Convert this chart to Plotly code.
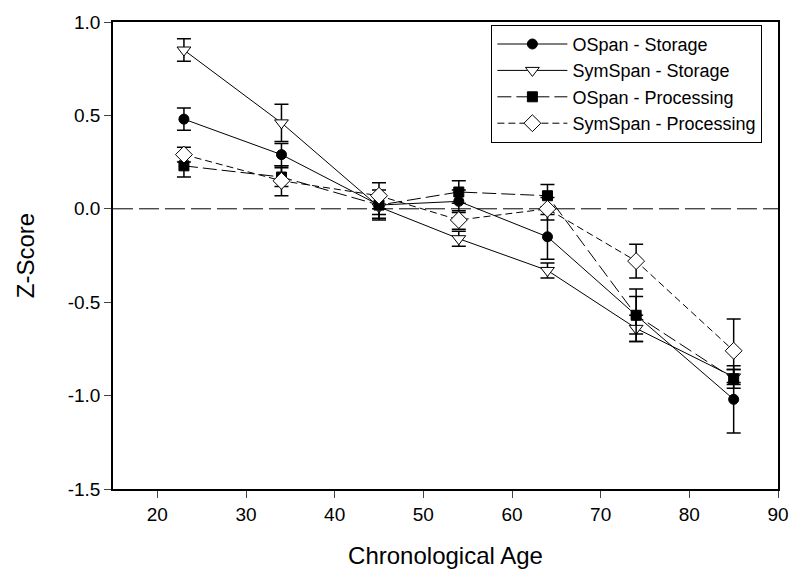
import plotly.graph_objects as go

ages = [23, 34, 45, 54, 64, 74, 85]

series_names = ["OSpan - Storage", "SymSpan - Storage", "OSpan - Processing", "SymSpan - Processing"]

ospan_storage = [0.48, 0.29, 0.02, 0.04, -0.15, -0.57, -1.02]
ospan_storage_err = [0.06, 0.06, 0.05, 0.06, 0.12, 0.10, 0.18]

symspan_storage = [0.85, 0.46, 0.01, -0.16, -0.33, -0.64, -0.90]
symspan_storage_err = [0.06, 0.10, 0.06, 0.04, 0.04, 0.07, 0.04]

ospan_processing = [0.23, 0.17, 0.02, 0.09, 0.07, -0.57, -0.91]
ospan_processing_err = [0.06, 0.05, 0.08, 0.06, 0.06, 0.14, 0.05]

symspan_processing = [0.29, 0.15, 0.07, -0.06, 0.00, -0.28, -0.76]
symspan_processing_err = [0.04, 0.08, 0.07, 0.05, 0.06, 0.09, 0.17]

x_ticks = [20, 30, 40, 50, 60, 70, 80, 90]
y_ticks = [-1.5, -1.0, -0.5, 0.0, 0.5, 1.0]
y_tick_labels = ["-1.5", "-1.0", "-0.5", "0.0", "0.5", "1.0"]

FONT = "Liberation Sans, Arial, sans-serif"

fig = go.Figure()

# zero reference line
fig.add_shape(type="line", xref="x", yref="y", x0=15, x1=90, y0=0, y1=0,
              line=dict(color="black", width=1, dash="20px,6px"), layer="below")

styles = [
    (ospan_storage, ospan_storage_err, "circle", "black", "solid", 10),
    (symspan_storage, symspan_storage_err, "triangle-down", "white", "solid", 12),
    (ospan_processing, ospan_processing_err, "square", "black", "14px,5px", 10),
    (symspan_processing, symspan_processing_err, "diamond", "white", "7px,4px", 13),
]

for name, (vals, errs, sym, fill, dash, size) in zip(series_names, styles):
    fig.add_trace(go.Scatter(
        x=ages, y=vals, name=name, mode="lines+markers",
        line=dict(color="black", width=1, dash=dash),
        marker=dict(symbol=sym, size=size, color=fill, line=dict(color="black", width=1)),
        error_y=dict(type="data", array=errs, visible=True, color="black", thickness=1.5, width=7),
    ))

fig.update_layout(
    width=801, height=585,
    margin=dict(l=113, r=16, t=20, b=96),
    paper_bgcolor="white", plot_bgcolor="white",
    font=dict(family=FONT, color="black", size=19),
    showlegend=True,
    legend=dict(x=0.569, y=0.994, xanchor="left", yanchor="top",
                bordercolor="black", borderwidth=1, bgcolor="white",
                font=dict(size=18, family=FONT), itemwidth=70,
                tracegroupgap=0),
    xaxis=dict(range=[15, 90], tickvals=x_ticks, ticks="outside", ticklen=7,
               showline=True, linecolor="black", linewidth=1.5, mirror=True,
               showgrid=False, zeroline=False,
               title=dict(text="Chronological Age", font=dict(size=24), standoff=24),
               tickfont=dict(size=19)),
    yaxis=dict(range=[-1.5, 1.0], tickvals=y_ticks, ticktext=y_tick_labels,
               ticks="outside", ticklen=7,
               showline=True, linecolor="black", linewidth=1.5, mirror=True,
               showgrid=False, zeroline=False,
               title=dict(text="Z-Score", font=dict(size=24), standoff=26),
               tickfont=dict(size=19)),
)

fig.write_html("out.html", config={"displayModeBar": False},
               post_script="document.body.style.margin='0';")
